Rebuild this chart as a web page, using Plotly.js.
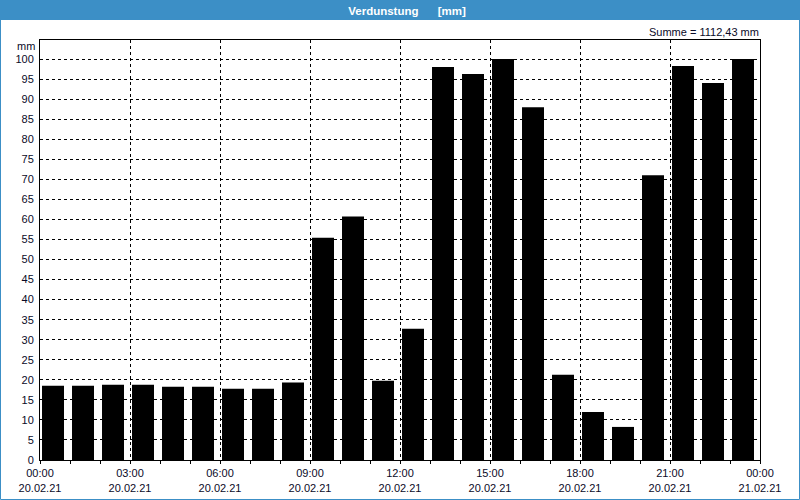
<!DOCTYPE html>
<html><head><meta charset="utf-8">
<script src="https://cdn.plot.ly/plotly-3.0.1.min.js"></script>
<style>html,body{margin:0;padding:0;background:#fff}#c{width:800px;height:500px}</style>
</head><body><div id="c"></div>
<script>
const hours = [0,1,2,3,4,5,6,7,8,9,10,11,12,13,14,15,16,17,18,19,20,21,22,23];
const values = [18.5,18.5,18.75,18.75,18.25,18.3,17.8,17.8,19.3,55.4,60.75,19.75,32.75,98,96.25,100,88,21.25,12,8.25,71,98.25,94,100];
const tickHours = [0,3,6,9,12,15,18,21,24];
const tickTimes = ["00:00","03:00","06:00","09:00","12:00","15:00","18:00","21:00","00:00"];
const tickDates = ["20.02.21","20.02.21","20.02.21","20.02.21","20.02.21","20.02.21","20.02.21","20.02.21","21.02.21"];
const yTicks = [0,5,10,15,20,25,30,35,40,45,50,55,60,65,70,75,80,85,90,95,100];

const blue = '#3c8fc6';
const txt = '#0a0a28';
const font = {family:'"Liberation Sans", Arial, sans-serif', size:11, color:txt};
const px = v => (v-40)/720, py = v => (460-v)/420;

Plotly.newPlot('c', [{
  type:'bar', x:hours, y:values, offset:0.067, width:0.733,
  marker:{color:'#000000', line:{width:0}}, hoverinfo:'skip'
}], {
  width:800, height:500,
  margin:{l:40,r:40,t:40,b:40},
  paper_bgcolor:'#ffffff', plot_bgcolor:'#ffffff',
  font:font, showlegend:false,
  title:{text:'Verdunstung\u00a0\u00a0\u00a0\u00a0\u00a0\u00a0[mm]', x:407/800, xanchor:'center', y:1-10.5/500, yanchor:'middle',
         font:{family:'"Liberation Sans", Arial, sans-serif', size:11.5, color:'#ffffff', weight:'bold'}},
  xaxis:{range:[0,24], tickvals:tickHours, ticktext:tickHours.map((h,i)=>tickTimes[i]+'<br>'+tickDates[i]),
         ticks:'outside', ticklen:3, tickcolor:'#000', tickwidth:1,
         minor:{dtick:1, tick0:0, ticks:'outside', ticklen:3, tickcolor:'#000', showgrid:false},
         showgrid:true, gridcolor:'#000', gridwidth:1, griddash:'dot',
         showline:true, linecolor:'#000', linewidth:1, mirror:true, zeroline:false,
         tickfont:font, fixedrange:true},
  yaxis:{range:[0,104.75], tickvals:yTicks, ticks:'', ticklabelstandoff:3,
         showgrid:true, gridcolor:'#000', gridwidth:1, griddash:'dot',
         showline:true, linecolor:'#000', linewidth:1, mirror:true, zeroline:false,
         tickfont:font, fixedrange:true},
  shapes:[
    {type:'rect', xref:'paper', yref:'paper', x0:px(0), x1:px(800), y0:py(20), y1:py(0), fillcolor:blue, line:{width:0}, layer:'below'},
    {type:'rect', xref:'paper', yref:'paper', x0:px(0.5), x1:px(799.5), y0:py(499.5), y1:py(0), fillcolor:'rgba(0,0,0,0)', line:{width:1,color:blue}}
  ],
  annotations:[
    {xref:'paper', yref:'paper', x:px(761), y:py(32), xanchor:'right', yanchor:'middle', showarrow:false,
     text:'Summe = 1112,43 mm', font:font},
    {xref:'paper', yref:'paper', x:px(37), y:py(46), xanchor:'right', yanchor:'middle', showarrow:false,
     text:'mm', font:font}
  ]
}, {displayModeBar:false, staticPlot:true});
</script></body></html>
